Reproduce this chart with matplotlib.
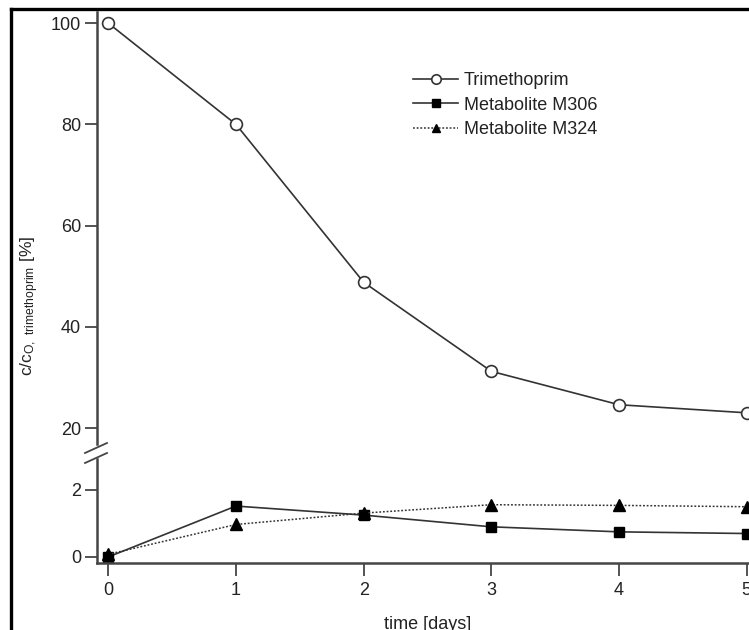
import matplotlib
matplotlib.use("Agg")
import matplotlib.pyplot as plt
from matplotlib.lines import Line2D

plt.rcParams['font.family'] = ['Liberation Sans Narrow', 'Liberation Sans', 'DejaVu Sans']
plt.rcParams['mathtext.default'] = 'regular'

# data
days = [0, 1, 2, 3, 4, 5]
trimethoprim = [100, 80, 48.8, 31.2, 24.6, 23.0]
m306 = [0.0, 1.52, 1.25, 0.9, 0.75, 0.7]
m324 = [0.08, 0.97, 1.31, 1.56, 1.54, 1.5]

xTicks = [0, 1, 2, 3, 4, 5]
upperTicks = [20, 40, 60, 80, 100]
lowerTicks = [0, 2]

W, H = 749, 630
fig = plt.figure(figsize=(W / 100, H / 100), dpi=100)

lineColor = "#333333"
spineColor = "#454545"
left = 96.5 / W
width = 663 / W
xlim = (-0.092, 5.1)

# Upper part of the broken axis
axTop = fig.add_axes([left, (H - 444) / H, width, (444 - 12) / H])
axTop.set_xlim(*xlim)
axTop.set_ylim(16.84, 102.2)
axTop.plot(days, trimethoprim, color=lineColor, lw=1.2, marker="o", ms=8.5,
           mfc="white", mec=lineColor, mew=1.2, clip_on=False, label="Trimethoprim")
for side in ["top", "right", "bottom"]:
    axTop.spines[side].set_visible(False)
axTop.spines["left"].set_color(spineColor)
axTop.spines["left"].set_linewidth(1.8)
axTop.set_xticks([])
axTop.set_yticks(upperTicks)
axTop.tick_params(axis="y", direction="out", length=9, width=1.3, color=spineColor,
                  labelsize=13, pad=2, labelcolor="#222222")

# Lower part of the broken axis
axBot = fig.add_axes([left, (H - 563) / H, width, (563 - 459) / H])
axBot.set_xlim(*xlim)
axBot.set_ylim(-0.18, 2.925)
axBot.plot(days, m306, color=lineColor, lw=1.2, marker="s", ms=7,
           mfc="black", mec="black", clip_on=False, label="Metabolite M306")
axBot.plot(days, m324, color=lineColor, lw=1.1, ls=(0, (1.2, 1.2)), marker="^", ms=8,
           mfc="black", mec="black", clip_on=False, label="Metabolite M324")
for side in ["top", "right"]:
    axBot.spines[side].set_visible(False)
for side in ["left", "bottom"]:
    axBot.spines[side].set_color(spineColor)
    axBot.spines[side].set_linewidth(1.8)
axBot.set_xticks(xTicks)
axBot.set_yticks(lowerTicks)
axBot.tick_params(direction="out", length=9, width=1.3, color=spineColor,
                  labelsize=13, labelcolor="#222222")
axBot.tick_params(axis="y", pad=2)
axBot.tick_params(axis="x", pad=5)
axBot.set_xlabel("time [days]", fontsize=13, color="#222222", labelpad=12)

# break marks
for y0 in (453, 463):
    fig.add_artist(Line2D([85 / W, 107 / W], [(H - y0) / H, (H - y0 + 10) / H],
                          color=spineColor, lw=1.3))

# y label
fig.text(30 / W, 1 - 306 / H, r"c/c$_{O,\ trimethoprim}$ [%]", rotation=90,
         ha="center", va="center", fontsize=12.5, color="#222222")

# legend
handles = axTop.get_lines() + axBot.get_lines()
fig.legend(handles, [h.get_label() for h in handles], loc="upper left",
           bbox_to_anchor=(413 / W, 1 - 72 / H), frameon=False, fontsize=13,
           borderpad=0, borderaxespad=0, handlelength=2.5, handletextpad=0.3,
           labelspacing=0.42, markerscale=0.8, labelcolor="#222222")

# image frame at left and top
fig.add_artist(Line2D([10.5 / W, 10.5 / W], [0, 1 - 9 / H], color="black", lw=2.4))
fig.add_artist(Line2D([10.5 / W, 1], [1 - 9 / H, 1 - 9 / H], color="black", lw=2.4))

fig.savefig("out.png", dpi=100)
